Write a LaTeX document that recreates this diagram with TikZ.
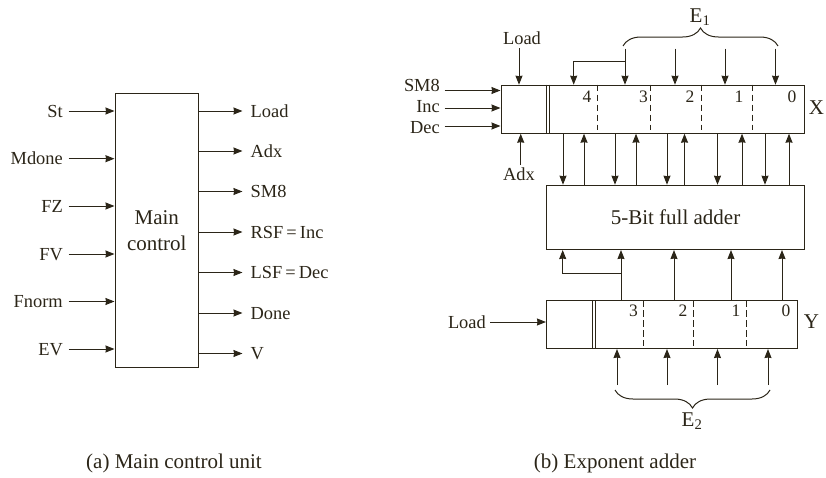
\documentclass[tikz,border=0pt]{standalone}
\usepackage{fontspec}
\setmainfont{Liberation Serif}
\usetikzlibrary{arrows.meta,decorations.pathreplacing}
\definecolor{ink}{HTML}{2B2518}
\tikzset{
  every node/.style={text=ink,inner sep=0pt},
  line/.style={draw=ink,line width=1pt},
  arr/.style={line,-{Stealth[length=9pt,width=7pt,inset=0.5pt]}},
  boxn/.style={line,rectangle,anchor=north west},
  lab/.style={font=\fontsize{18.4}{20}\selectfont,text height=12pt,text depth=0pt,inner xsep=5.5pt},
  big/.style={font=\fontsize{21}{26.7}\selectfont},
  dig/.style={font=\fontsize{17.5}{20}\selectfont},
  dsh/.style={line,dash pattern=on 6.5pt off 3.5pt},
  brc/.style={line,decorate,decoration={brace,amplitude=18pt,aspect=0.5}}
}
\begin{document}
\begin{tikzpicture}[x=1pt,y=-1pt]
\useasboundingbox (0,0) rectangle (826,477);
% (a) main control
\node[boxn,minimum width=83.5pt,minimum height=274pt,align=center,big] (M) at (114.5,93) {Main\\control};
\foreach \n/\t/\y in {a/St/111,b/Mdone/158.7,c/FZ/206,d/FV/254,e/Fnorm/301.5,f/EV/349}{
  \node[lab,anchor=east] (in\n) at (68.5,\y) {\t};
  \draw[arr] (in\n.east) -- (in\n.east -| M.west);
}
\foreach \n/\t/\y in {a/Load/111,b/Adx/151,c/SM8/191.5,d/RSF\,=\,Inc/232,e/LSF\,=\,Dec/272.5,f/Done/313,g/V/353.5}{
  \node[lab,anchor=west] (out\n) at (245,\y) {\t};
  \coordinate (oe\n) at (242.5,\y);
  \draw[arr] (oe\n -| M.east) -- (oe\n);
}
\node[big] (capa) at (174,463) {(a) Main control unit};
% X register
\node[boxn,minimum width=303.5pt,minimum height=48pt] (X) at (500.5,84.7) {};
\coordinate (xd1) at (546,0); \coordinate (xd2) at (549.5,0);
\draw[line] (xd1 |- X.north) -- (xd1 |- X.south);
\draw[line] (xd2 |- X.north) -- (xd2 |- X.south);
\foreach \x in {597,650,701,752}{
  \coordinate (xs) at (\x,130);
  \draw[dsh] (xs |- X.north) -- (xs);
}
\foreach \t/\x in {4/587,3/643.5,2/690,1/739,0/792}{
  \node[dig] (xb\t) at (\x,96.5) {\t};
}
\node[big] (Xl) at (816.5,108) {X};
% adder
\node[boxn,minimum width=258pt,minimum height=64.3pt,big] (A) at (546,184.7) {5-Bit full adder};
% Y register
\node[boxn,minimum width=251pt,minimum height=48pt] (Y) at (546,300) {};
\coordinate (yd1) at (592,0); \coordinate (yd2) at (595,0);
\draw[line] (yd1 |- Y.north) -- (yd1 |- Y.south);
\draw[line] (yd2 |- Y.north) -- (yd2 |- Y.south);
\foreach \x in {643,693.5,746}{
  \coordinate (ys) at (\x,346);
  \draw[dsh] (ys |- Y.north) -- (ys);
}
\foreach \t/\x in {3/633.5,2/683,1/736,0/786}{
  \node[dig] (yb\t) at (\x,311) {\t};
}
\node[big] (Yl) at (811.5,322) {Y};
% Load to X
\node[lab] (xload) at (522,38) {Load};
\coordinate (lx) at (519,48);
\draw[arr] (lx) -- (lx |- X.north);
% Left X inputs
\foreach \n/\t/\y/\ty in {s/SM8/90.5/85.7,i/Inc/108/106.7,d/Dec/126/127.3}{
  \node[lab,anchor=east] (xi\n) at (445.5,\ty) {\t};
  \coordinate (xc\n) at (444.5,\y);
  \draw[arr] (xc\n) -- (xc\n -| X.west);
}
% Adx
\node[lab] (xadx) at (519,174) {Adx};
\coordinate (ax) at (520.7,165);
\draw[arr] (ax) -- (ax |- X.south);
% E1 arrows
\foreach \x in {625,675,725,775.5}{
  \coordinate (et) at (\x,48.7);
  \draw[arr] (et) -- (et |- X.north);
}
\coordinate (e3) at (625,61.7);
\coordinate (e4) at (573.7,61.7);
\draw[arr] (e3) -- (e4) -- (e4 |- X.north);
% brace E1
\coordinate (b1l) at (623,46); \coordinate (b1r) at (778,46);
\draw[brc] (b1l) -- (b1r) ;
\node[big] (E1) at (700,17) {E\textsubscript{1}};
% X <-> adder
\foreach \x in {563,615,667,717.5,765}{
  \coordinate (dn) at (\x,0);
  \draw[arr] (dn |- X.south) -- (dn |- A.north);
}
\foreach \x in {584,636,684.5,742,789}{
  \coordinate (up) at (\x,0);
  \draw[arr] (up |- A.north) -- (up |- X.south);
}
% Y -> adder
\foreach \x in {621,674,731,782}{
  \coordinate (yu) at (\x,0);
  \draw[arr] (yu |- Y.north) -- (yu |- A.south);
}
\coordinate (y3) at (621,273.7);
\coordinate (y4) at (562.7,273.7);
\draw[arr] (y3) -- (y4) -- (y4 |- A.south);
% Load to Y
\node[lab,anchor=east] (yload) at (491.5,322) {Load};
\coordinate (yl) at (490,322);
\draw[arr] (yl) -- (yl -| Y.west);
% E2 arrows
\foreach \x in {617,667,717.5,768}{
  \coordinate (eb) at (\x,385);
  \draw[arr] (eb) -- (eb |- Y.south);
}
\coordinate (b2l) at (615,390); \coordinate (b2r) at (770,390);
\draw[brc] (b2r) -- (b2l);
\node[big] (E2) at (692,421) {E\textsubscript{2}};
\node[big] (capb) at (615,463) {(b) Exponent adder};
\end{tikzpicture}
\end{document}
